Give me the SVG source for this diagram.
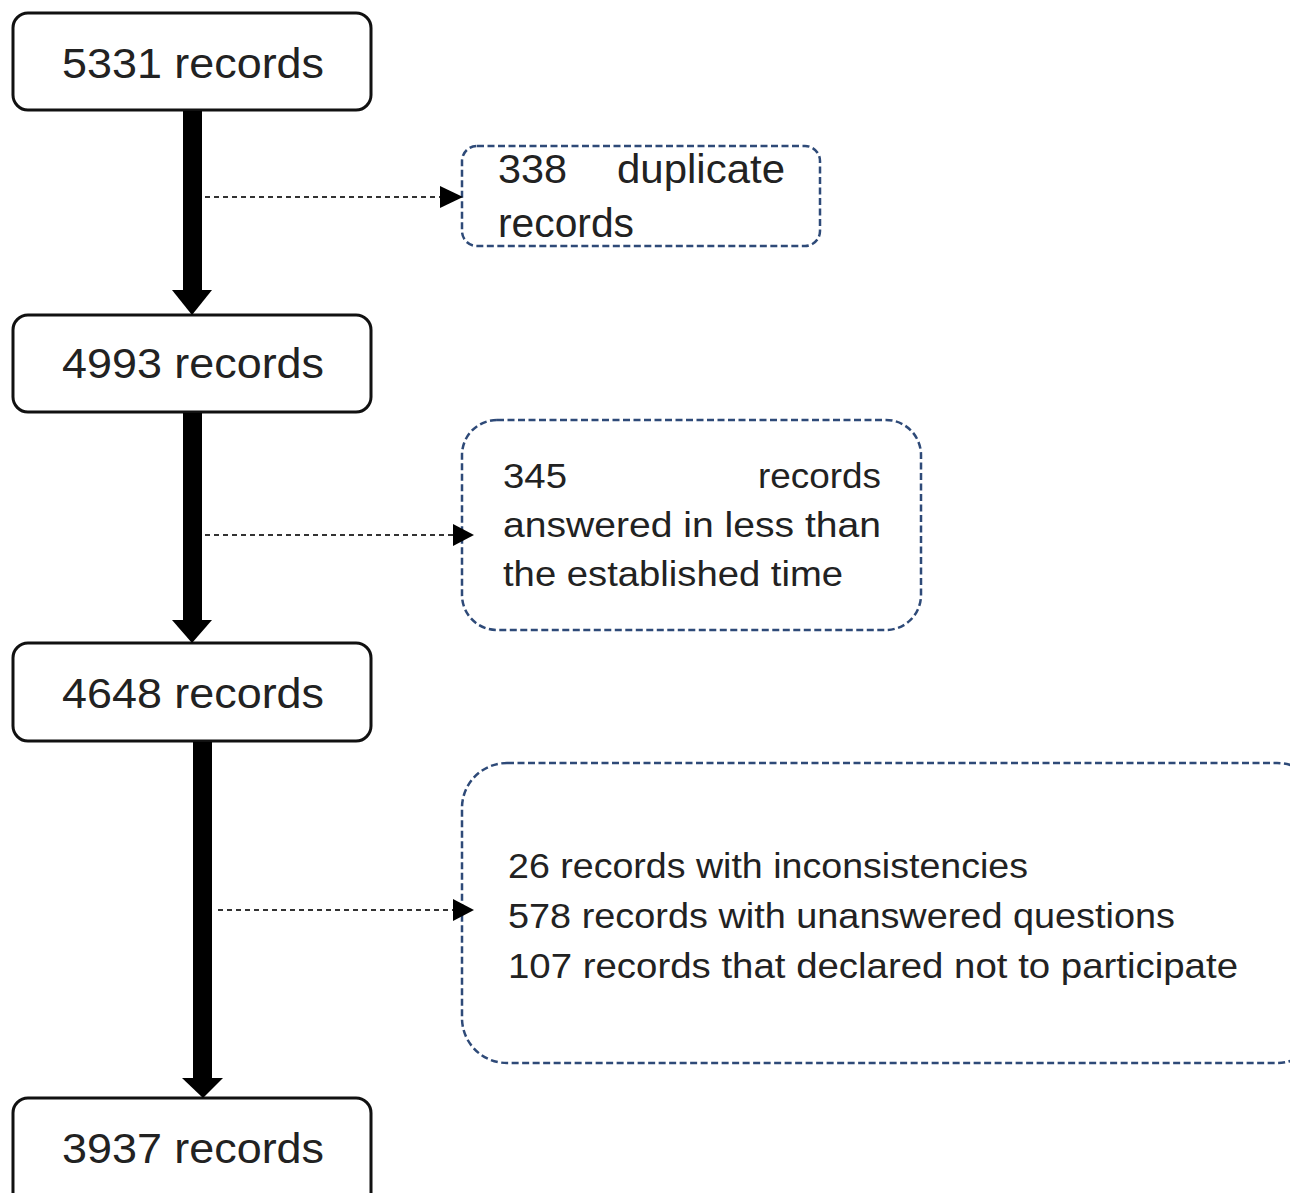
<svg xmlns="http://www.w3.org/2000/svg" width="1290" height="1193" viewBox="0 0 1290 1193">
<style>
.box{fill:#fff;stroke:#111;stroke-width:3}
.dbox{fill:#fff;stroke:#2e4a78;stroke-width:2.5;stroke-dasharray:7 3.5}
.big{font-family:"Liberation Sans",Arial,sans-serif;font-size:42px;fill:#222}
.sm{font-family:"Liberation Sans",Arial,sans-serif;font-size:35px;fill:#222}
.shaft{fill:#000}
.dash{stroke:#333;stroke-width:2;stroke-dasharray:5 4;fill:none}
</style>
<rect width="1290" height="1193" fill="#fff"/>
<g id="n5331">
<rect class="box" x="13" y="13" width="358" height="97" rx="15"/>
<text class="big" x="62" y="78" textLength="262" lengthAdjust="spacingAndGlyphs">5331 records</text>
</g>
<g id="n4993">
<rect class="box" x="13" y="315" width="358" height="97" rx="15"/>
<text class="big" x="62" y="378" textLength="262" lengthAdjust="spacingAndGlyphs">4993 records</text>
</g>
<g id="n4648">
<rect class="box" x="13" y="643" width="358" height="98" rx="15"/>
<text class="big" x="62" y="708" textLength="262" lengthAdjust="spacingAndGlyphs">4648 records</text>
</g>
<g id="n3937">
<rect class="box" x="13" y="1098" width="358" height="110" rx="15"/>
<text class="big" x="62" y="1163" textLength="262" lengthAdjust="spacingAndGlyphs">3937 records</text>
</g>
<g id="dup">
<rect class="dbox" x="462" y="146" width="358" height="100" rx="15"/>
<text class="sm" x="498" y="183" textLength="69" lengthAdjust="spacingAndGlyphs" style="font-size:40px">338</text>
<text class="sm" x="617" y="183" textLength="168" lengthAdjust="spacingAndGlyphs" style="font-size:40px">duplicate</text>
<text class="sm" x="498" y="237" textLength="136" lengthAdjust="spacingAndGlyphs" style="font-size:40px">records</text>
</g>
<g id="time">
<rect class="dbox" x="462" y="420" width="459" height="210" rx="35"/>
<text class="sm" x="503" y="488" textLength="64" lengthAdjust="spacingAndGlyphs">345</text>
<text class="sm" x="758" y="488" textLength="123" lengthAdjust="spacingAndGlyphs">records</text>
<text class="sm" x="503" y="537" textLength="378" lengthAdjust="spacingAndGlyphs">answered in less than</text>
<text class="sm" x="503" y="586" textLength="340" lengthAdjust="spacingAndGlyphs">the established time</text>
</g>
<g id="other">
<rect class="dbox" x="462" y="763" width="860" height="300" rx="45"/>
<text class="sm" x="508" y="878" textLength="520" lengthAdjust="spacingAndGlyphs">26 records with inconsistencies</text>
<text class="sm" x="508" y="928" textLength="667" lengthAdjust="spacingAndGlyphs">578 records with unanswered questions</text>
<text class="sm" x="508" y="978" textLength="730" lengthAdjust="spacingAndGlyphs">107 records that declared not to participate</text>
</g>
<g id="connectors">
<rect class="shaft" x="183" y="111" width="19" height="179"/>
<path class="shaft" d="M172,290 L212,290 L192,315 z"/>
<rect class="shaft" x="183" y="413" width="19" height="207"/>
<path class="shaft" d="M172,620 L212,620 L192,643 z"/>
<rect class="shaft" x="193" y="742" width="19" height="336"/>
<path class="shaft" d="M182,1078 L223,1078 L203,1098 z"/>
<line class="dash" x1="205" y1="197" x2="440" y2="197"/>
<path class="shaft" d="M440,186 L463,197 L440,208 z"/>
<line class="dash" x1="205" y1="535" x2="453" y2="535"/>
<path class="shaft" d="M453,524 L474,535 L453,546 z"/>
<line class="dash" x1="218" y1="910" x2="453" y2="910"/>
<path class="shaft" d="M453,899 L474,910 L453,921 z"/>
</g>
</svg>
